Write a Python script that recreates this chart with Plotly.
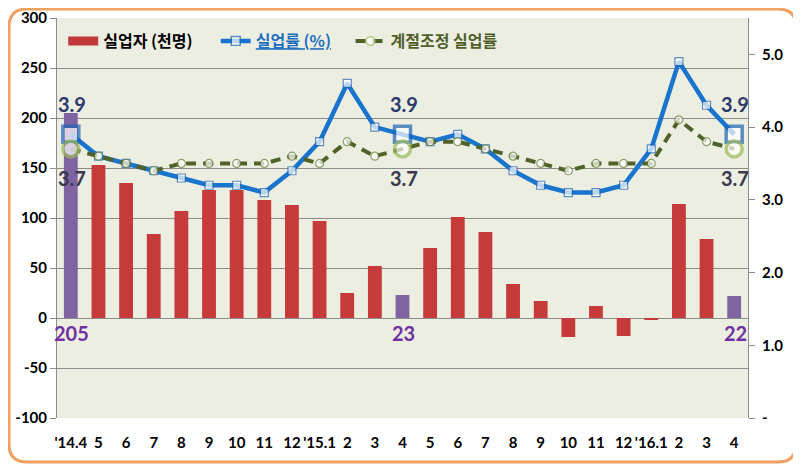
import plotly.graph_objects as go

categories = ["'14.4", "5", "6", "7", "8", "9", "10", "11", "12", "'15.1", "2", "3", "4",
              "5", "6", "7", "8", "9", "10", "11", "12", "'16.1", "2", "3", "4"]
unemployed = [205, 153, 135, 84, 107, 128, 128, 118, 113, 97, 25, 52, 23,
              70, 101, 86, 34, 17, -19, 12, -18, -2, 114, 79, 22]
unemp_rate = [3.9, 3.6, 3.5, 3.4, 3.3, 3.2, 3.2, 3.1, 3.4, 3.8, 4.6, 4.0, 3.9,
              3.8, 3.9, 3.7, 3.4, 3.2, 3.1, 3.1, 3.2, 3.7, 4.9, 4.3, 3.9]
sa_rate = [3.7, 3.6, 3.5, 3.4, 3.5, 3.5, 3.5, 3.5, 3.6, 3.5, 3.8, 3.6, 3.7,
           3.8, 3.8, 3.7, 3.6, 3.5, 3.4, 3.5, 3.5, 3.5, 4.1, 3.8, 3.7]
highlight = [0, 12, 24]
left_ticks = [300, 250, 200, 150, 100, 50, 0, -50, -100]
right_ticks = [0, 1, 2, 3, 4, 5]
right_ticktext = ["-", "1.0", "2.0", "3.0", "4.0", "5.0"]

# page body adds an 8px offset, so the figure is slightly smaller
W, H = 793, 458
L, R, T, B = 49, 53, 10, 48
PW, PH = W - L - R, H - T - B

NUM_FONT = "Lato, 'Noto Sans CJK KR', sans-serif"
KR_FONT = "'Noto Sans CJK KR', sans-serif"
NB = "\u00a0"

x = list(range(len(categories)))
bar_colors = ["#8064A2" if i in highlight else "#C73A3A" for i in x]

fig = go.Figure()
fig.add_trace(go.Bar(
    x=x, y=unemployed, name="실업자 (천명)", marker=dict(color=bar_colors, line=dict(width=0)),
    width=0.5, yaxis="y", showlegend=False))
# legend entry for the bars (wide red rectangle)
fig.add_trace(go.Scatter(x=[None], y=[None], mode="lines", name="실업자 (천명)" + NB * 5,
                         line=dict(color="#C0393B", width=9), yaxis="y"))

sq_size = [16 if i in highlight else 8 for i in x]
sq_lw = [3.5 if i in highlight else 1.2 for i in x]
fig.add_trace(go.Scatter(
    x=x, y=unemp_rate, yaxis="y2", mode="lines+markers",
    name="<span style='color:#1F6FBF'><u>실업률 (%)</u></span>" + NB * 4,
    line=dict(color="#1874CD", width=4.5),
    marker=dict(symbol="square", size=sq_size, color="white",
                line=dict(color="#1F64B4", width=sq_lw))))

c_size = [16 if i in highlight else 8 for i in x]
c_lw = [3.5 if i in highlight else 1.2 for i in x]
c_col = ["#9BBB59" if i in highlight else "#6A7F3A" for i in x]
fig.add_trace(go.Scatter(
    x=x, y=sa_rate, yaxis="y2", mode="lines+markers",
    name="<span style='color:#4F5F2A'>계절조정 실업률</span>",
    line=dict(color="#4F6228", width=4, dash="10px,7px"),
    marker=dict(symbol="circle", size=c_size, color="white",
                line=dict(color=c_col, width=c_lw))))

annotations = []
for i in highlight:
    annotations.append(dict(x=i, y=unemp_rate[i], xref="x", yref="y2", text=f"{unemp_rate[i]:.1f}",
                            showarrow=False, yshift=30, xshift=1,
                            font=dict(family=NUM_FONT, size=20, color="#2B3A6B", weight="bold")))
    annotations.append(dict(x=i, y=sa_rate[i], xref="x", yref="y2", text=f"{sa_rate[i]:.1f}",
                            showarrow=False, yshift=-29, xshift=1,
                            font=dict(family=NUM_FONT, size=20, color="#3A3A4E", weight="bold")))
    annotations.append(dict(x=i, y=0, xref="x", yref="y", text=f"{unemployed[i]}",
                            showarrow=False, yanchor="top", yshift=-1, xshift=1,
                            font=dict(family=NUM_FONT, size=20, color="#7030A0", weight="bold")))


def px(xp):
    return (xp - L) / PW


def py(yp):
    return 1 - (yp - T) / PH


x0, x1, y0, y1, rr = 1, 788, 1, 454, 18
path = (f"M {px(x0 + rr)},{py(y0)} L {px(x1 - rr)},{py(y0)} Q {px(x1)},{py(y0)} {px(x1)},{py(y0 + rr)} "
        f"L {px(x1)},{py(y1 - rr)} Q {px(x1)},{py(y1)} {px(x1 - rr)},{py(y1)} "
        f"L {px(x0 + rr)},{py(y1)} Q {px(x0)},{py(y1)} {px(x0)},{py(y1 - rr)} "
        f"L {px(x0)},{py(y0 + rr)} Q {px(x0)},{py(y0)} {px(x0 + rr)},{py(y0)} Z")

tickfont = dict(family=NUM_FONT, size=15, color="black", weight="bold")

fig.update_layout(
    width=W, height=H, margin=dict(l=L, r=R, t=T, b=B, autoexpand=False),
    paper_bgcolor="white", plot_bgcolor="#ECEEE2",
    showlegend=True,
    legend=dict(orientation="h", x=0.009, y=0.985, xanchor="left", yanchor="top",
                bgcolor="rgba(0,0,0,0)", traceorder="normal",
                font=dict(family=KR_FONT, size=16, color="black", weight="bold")),
    xaxis=dict(range=[-0.5, len(x) - 0.5], tickvals=x, ticktext=categories, showgrid=False,
               showline=False, ticks="", zeroline=False, ticklabelstandoff=14, automargin=False,
               tickfont=tickfont),
    xaxis2=dict(range=[-0.5, len(x) - 0.5], overlaying="x", anchor="free", position=0.25, side="bottom",
                tickvals=[i - 0.5 for i in range(len(x) + 1)], showticklabels=False, automargin=False,
                ticks="outside", ticklen=6, tickcolor="#868686", showline=True, linecolor="#868686",
                linewidth=1, showgrid=False, zeroline=False),
    yaxis=dict(range=[-100, 300], tickvals=left_ticks, ticktext=[str(v) for v in left_ticks],
               showgrid=True, gridcolor="#8C8C8C", gridwidth=1, zeroline=False, automargin=False,
               showline=True, linecolor="#8C8C8C", ticks="outside", ticklen=6, tickcolor="#8C8C8C",
               ticklabeloverflow="allow", tickfont=tickfont),
    yaxis2=dict(range=[0, 5.5], overlaying="y", side="right", tickvals=right_ticks,
                ticktext=right_ticktext, showgrid=False, zeroline=False, automargin=False,
                showline=True, linecolor="#8C8C8C", ticks="outside", ticklen=6, tickcolor="#8C8C8C",
                ticklabelstandoff=4, ticklabeloverflow="allow", tickfont=tickfont),
    annotations=annotations,
    shapes=[dict(type="path", xref="paper", yref="paper", path=path,
                 line=dict(color="#F0A060", width=3), layer="below")],
)

fig.write_html("out.html")
